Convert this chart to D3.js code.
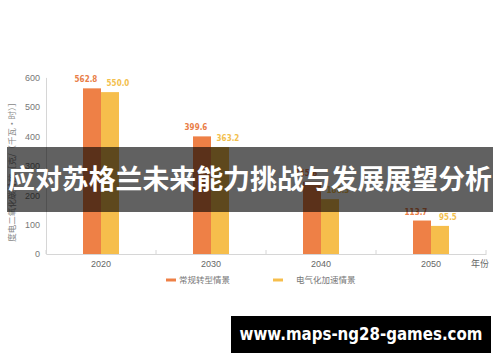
<!DOCTYPE html>
<html><head><meta charset="utf-8">
<script src="https://cdn.jsdelivr.net/npm/d3@7/dist/d3.min.js"></script>
<style>html,body{margin:0;padding:0;background:#fff;}svg{display:block;}</style>
</head><body><div id="chart"></div>
<script>
const categories = ["2020", "2030", "2040", "2050"];
const seriesNames = ["常规转型情景", "电气化加速情景"];
const conventional = [562.8, 399.6, 245.6, 113.7];
const electrified = [550.0, 363.2, 186.3, 95.5];
const yTicks = [0, 100, 200, 300, 400, 500, 600];
const yTitle = "度电二氧化碳排放［克/（千瓦·时）］";
const xUnit = "年份";
const overlayTitle = "应对苏格兰未来能力挑战与发展展望分析";
const watermark = "www.maps-ng28-games.com";
const colors = ["#EE8046", "#F6BE4C"];
const labelColors = ["#E97E48", "#F3C04E"];

const W = 500, H = 362;
const svg = d3.select("#chart").append("svg").attr("width", W).attr("height", H);
const sans = "'Noto Sans CJK SC', 'Noto Sans', sans-serif";

const x = d3.scaleBand().domain(categories).range([46, 486]).padding(0);
const y = d3.scaleLinear().domain([0, 600]).range([254, 77.4]);
const barW = 18;

// Y axis
const yAxis = svg.append("g").attr("transform", "translate(46,0)")
  .call(d3.axisLeft(y).tickValues(yTicks).tickSize(0).tickPadding(6));
yAxis.select(".domain").attr("stroke", "#d6d6d6");
yAxis.selectAll("text").attr("fill", "#777").style("font-family", "'Liberation Sans', Arial, sans-serif").style("font-size", "9px");

// X axis
const xAxis = svg.append("g").attr("transform", "translate(0,254)")
  .call(d3.axisBottom(x).tickSize(0).tickPadding(7));
xAxis.select(".domain").attr("stroke", "#d6d6d6");
xAxis.selectAll("text").attr("fill", "#666").style("font-family", "'Liberation Sans', Arial, sans-serif").style("font-size", "9px");
// boundary ticks
const bounds = categories.map(c => x(c)).concat([x.range()[1]]);
svg.append("g").selectAll("line").data(bounds).join("line")
  .attr("x1", d => d).attr("x2", d => d).attr("y1", 254).attr("y2", 250)
  .attr("stroke", "#d6d6d6");

svg.append("text").attr("x", 480).attr("y", 267).attr("text-anchor", "middle")
  .attr("fill", "#666").style("font-family", sans).style("font-size", "9px").text(xUnit);

// Y title
svg.append("text").attr("transform", "translate(15,170) rotate(-90)")
  .attr("text-anchor", "middle").attr("fill", "#888")
  .style("font-family", sans).style("font-size", "8.5px").text(yTitle);

// Bars
const series = [conventional, electrified];
const labelOffsets = [-6, 8];
series.forEach((vals, si) => {
  const g = svg.append("g");
  g.selectAll("rect").data(vals).join("rect")
    .attr("x", (d, i) => x(categories[i]) + x.bandwidth() / 2 - barW + si * barW)
    .attr("width", barW)
    .attr("y", d => y(d))
    .attr("height", d => y(0) - y(d))
    .attr("fill", colors[si]);
  g.selectAll("text").data(vals).join("text")
    .attr("x", (d, i) => x(categories[i]) + x.bandwidth() / 2 - barW / 2 + si * barW + labelOffsets[si])
    .attr("y", d => y(d) - 6)
    .attr("text-anchor", "middle")
    .attr("fill", labelColors[si])
    .style("font-family", "'Liberation Sans Narrow', 'DejaVu Sans Condensed', sans-serif")
    .style("font-weight", "bold").style("font-size", "8px")
    .text(d => d.toFixed(1));
});

// Legend
const legendX = [166, 273];
seriesNames.forEach((name, i) => {
  svg.append("line").attr("x1", legendX[i]).attr("x2", legendX[i] + 10)
    .attr("y1", 280).attr("y2", 280).attr("stroke", colors[i]).attr("stroke-width", 3);
  svg.append("text").attr("x", legendX[i] + 13 + (i ? 10 : 0)).attr("y", 283)
    .attr("fill", "#777").style("font-family", sans).style("font-size", "8.5px").text(name);
});

// Overlay band with title
svg.append("rect").attr("x", 7).attr("y", 147).attr("width", 486).attr("height", 65)
  .attr("fill", "rgba(0,0,0,0.62)");
svg.append("text").attr("x", 250).attr("y", 189).attr("text-anchor", "middle")
  .attr("fill", "#fff").style("font-family", sans).style("font-weight", "bold")
  .style("font-size", "27px").attr("textLength", 484).attr("lengthAdjust", "spacingAndGlyphs")
  .text(overlayTitle);

// Watermark
svg.append("rect").attr("x", 231).attr("y", 316).attr("width", 260).attr("height", 37).attr("fill", "#000");
svg.append("text").attr("x", 361).attr("y", 340).attr("text-anchor", "middle")
  .attr("fill", "#fff").style("font-family", "'DejaVu Sans', sans-serif").style("font-weight", "bold")
  .style("font-size", "17px").attr("textLength", 243).attr("lengthAdjust", "spacingAndGlyphs")
  .text(watermark);
</script></body></html>
